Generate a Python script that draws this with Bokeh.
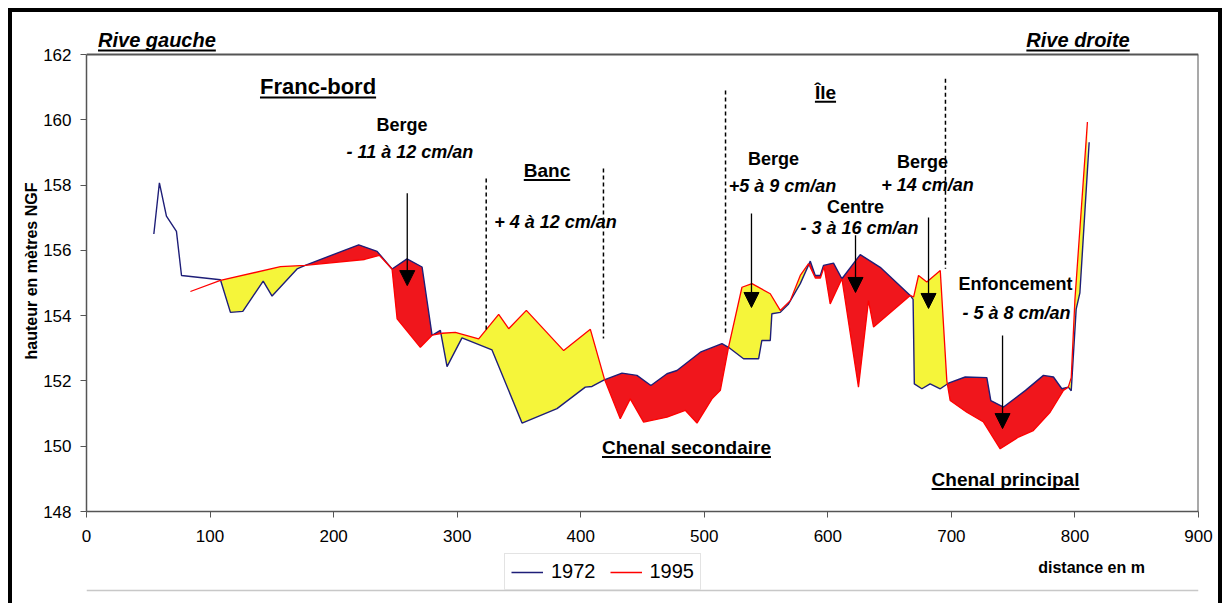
import numpy as np
from bokeh.plotting import figure
from bokeh.layouts import column
from bokeh.models import Range1d, FixedTicker, Label, Arrow, NormalHead, Legend, LegendItem
from bokeh.embed import file_html
from bokeh.resources import INLINE

# ---------------- data ----------------
dist_1972 = [54.5, 59, 64.7, 72.8, 76.9, 108.4, 116.5, 126.5, 143, 150.2, 170.4, 177,
             220.3, 235.2, 247.3, 259.4, 271.6, 279.7, 286.4, 291.8, 303.9, 328.2, 352.5,
             380.8, 403.7, 409.1, 419, 433.4, 445.5, 456.8, 469.8, 477.9, 496.8, 514.3,
             519.6, 531.8, 544, 546.6, 553.4, 554.7, 561.5, 568.2, 577.7, 585.8, 589.8,
             593.9, 596.5, 604.6, 611.4, 626.2, 642.4, 666.7, 669, 670, 676.1, 682.8, 691,
             697.6, 711.2, 728.7, 731.9, 742.2, 760, 774.5, 782.6, 789.4, 794.6, 797, 801,
             804, 811.5]
alt_1972 = [156.5, 158.07, 157.05, 156.58, 155.23, 155.1, 154.1, 154.13, 155.06, 154.6,
            155.43, 155.54, 156.17, 155.97, 155.43, 155.74, 155.49, 153.4, 153.55, 152.44,
            153.32, 152.95, 150.71, 151.15, 151.81, 151.83, 152.03, 152.24, 152.17, 151.86,
            152.22, 152.32, 152.88, 153.14, 153.03, 152.68, 152.68, 153.24, 153.24, 154.06,
            154.1, 154.36, 154.98, 155.67, 155.23, 155.23, 155.54, 155.61, 155.13, 155.87,
            155.48, 154.62, 154.5, 151.91, 151.76, 151.91, 151.76, 151.93, 152.12, 152.1,
            151.4, 151.2, 151.71, 152.17, 152.12, 151.76, 151.81, 151.7, 154.2, 154.7, 159.31]

dist_1995 = [84.1, 108.4, 157, 177, 225, 237, 247.3, 251.4, 270.2, 279.7, 287.8, 298.5,
             317.4, 333.6, 341.7, 356, 386.2, 407.8, 419.1, 432, 440.1, 450.9, 469.8, 484.6,
             494.1, 506.2, 513, 519.6, 530.5, 538.6, 553.4, 561.5, 569.6, 577.7, 584.4, 590,
             594, 597, 601.9, 611.4, 624.8, 632.9, 637, 666.7, 669.4, 673.4, 680.1, 691,
             696.3, 699, 712.5, 726, 739.5, 754.3, 766.3, 779.9, 790.7, 794.6, 797, 800, 810.1]
alt_1995 = [154.74, 155.08, 155.5, 155.54, 155.72, 155.85, 155.43, 153.9, 153.03, 153.4,
            153.46, 153.49, 153.29, 154.04, 153.6, 154.16, 152.93, 153.58, 152.07, 150.84,
            151.45, 150.74, 150.89, 151.1, 150.71, 151.45, 151.71, 153.03, 154.87, 154.98,
            154.67, 154.16, 154.46, 155.23, 155.59, 155.15, 155.15, 155.5, 154.36, 155.13,
            151.81, 154.46, 153.65, 154.62, 154.57, 155.23, 155.03, 155.38, 152.01, 151.4,
            151.04, 150.74, 149.92, 150.28, 150.48, 151.04, 151.71, 151.81, 152.1, 154.5, 159.93]

compare_from = 108.4          # start of the compared section (profiles meet)
series_labels = ["1972", "1995"]
x_ticks = [0, 100, 200, 300, 400, 500, 600, 700, 800, 900]
y_ticks = [148, 150, 152, 154, 156, 158, 160, 162]
x_min, x_max = 0, 900
y_min, y_max = 148, 162

# ---------------- styling ----------------
FONT = "Liberation Sans"
NAVY = "#1E1E78"
RED_LINE = "#FF0000"
RED_FILL = "#F0161C"
YELLOW = "#F5F53A"
AXIS = "#555555"

W_ALL = 1206
H_MAIN = 540
H_FOOT = 51
PX_X = 1112 / 900.0   # pixels per metre along x
PX_Y = 457 / 14.0     # pixels per metre of height
headroom = 24 / PX_Y  # room above the axis top for the bank names

p = figure(width=W_ALL, height=H_MAIN, output_backend="svg", toolbar_location=None,
           x_range=Range1d(x_min, x_max), y_range=Range1d(y_min, y_max + headroom),
           min_border_left=74, min_border_right=20, min_border_top=18, min_border_bottom=41)
p.background_fill_color = "white"
p.border_fill_color = "white"
p.xgrid.visible = False
p.ygrid.visible = False
p.outline_line_color = None

for ax, ticks in ((p.xaxis, x_ticks), (p.yaxis, y_ticks)):
    ax.ticker = FixedTicker(ticks=ticks)
    ax.axis_line_color = AXIS
    ax.axis_line_width = 1.5
    ax.major_tick_line_color = AXIS
    ax.major_tick_out = 6
    ax.major_tick_in = 0
    ax.minor_tick_line_color = None
    ax.major_label_text_font = FONT
    ax.major_label_text_font_size = "17px"
    ax.major_label_text_color = "black"
p.xaxis.major_label_standoff = 12
p.yaxis.major_label_standoff = 9
p.yaxis.bounds = (y_min, y_max)

p.yaxis.axis_label = "hauteur en mètres NGF"
p.yaxis.axis_label_standoff = 0
p.yaxis.axis_label_text_font = FONT
p.yaxis.axis_label_text_font_size = "16px"
p.yaxis.axis_label_text_font_style = "bold"
p.yaxis.axis_label_text_color = "black"

# frame top and right edges (axis box)
p.segment(x0=[x_min, x_max], y0=[y_max, y_min], x1=[x_max, x_max], y1=[y_max, y_max],
          line_color=AXIS, line_width=2)

# ---------------- fills between profiles ----------------
x72 = np.array(dist_1972, dtype=float)
y72 = np.array(alt_1972, dtype=float)
x95 = np.array(dist_1995, dtype=float)
y95 = np.array(alt_1995, dtype=float)
end = min(x72[-1], x95[-1])
grid = np.union1d(x72, x95)
grid = grid[(grid >= compare_from) & (grid <= end)]
a = np.interp(grid, x72, y72)
b = np.interp(grid, x95, y95)
d = b - a
xs = []
for i in range(len(grid)):
    xs.append(grid[i])
    if i < len(grid) - 1 and d[i] * d[i + 1] < 0:
        xs.append(grid[i] + d[i] / (d[i] - d[i + 1]) * (grid[i + 1] - grid[i]))
xs = np.array(xs)
a = np.interp(xs, x72, y72)
b = np.interp(xs, x95, y95)
p.varea(x=xs, y1=a, y2=np.maximum(a, b), fill_color=YELLOW)
p.varea(x=xs, y1=np.minimum(a, b), y2=a, fill_color=RED_FILL)

p.line(x72, y72, line_color=NAVY, line_width=1.4)
p.line(x95, y95, line_color=RED_LINE, line_width=1.3)

# ---------------- annotations ----------------
WIDTHS = {" ": 278, "-": 333, "B": 722, "C": 722, "F": 611, "R": 722, "Î": 278, "a": 556,
          "b": 611, "c": 556, "d": 611, "e": 556, "g": 611, "h": 611, "i": 278, "l": 278,
          "n": 611, "o": 611, "p": 611, "r": 389, "s": 556, "t": 333, "u": 611, "v": 556}


def text_px(s, size):
    return sum(WIDTHS.get(c, 556) for c in s) / 1000.0 * size


# (text, x, y, font size px, style, underlined)
notes = [
    ("Rive gauche", 57.0, 162.43, 20, "bold italic", True),
    ("Rive droite", 802.5, 162.43, 20, "bold italic", True),
    ("Franc-bord", 187.4, 161.02, 22, "bold", True),
    ("Berge", 255.4, 159.84, 18, "bold", False),
    ("- 11 à 12 cm/an", 261.8, 159.0, 18, "bold italic", False),
    ("Banc", 372.7, 158.45, 19, "bold", True),
    ("+ 4 à 12 cm/an", 379.6, 156.88, 18, "bold italic", False),
    ("Île", 598.1, 160.84, 19, "bold", True),
    ("Berge", 556.0, 158.81, 18, "bold", False),
    ("+5 à 9 cm/an", 563.3, 157.96, 18, "bold italic", False),
    ("Berge", 676.6, 158.72, 18, "bold", False),
    ("+ 14 cm/an", 680.7, 157.99, 18, "bold italic", False),
    ("Centre", 622.4, 157.34, 18, "bold", False),
    ("- 3 à 16 cm/an", 625.6, 156.67, 18, "bold italic", False),
    ("Enfoncement", 751.9, 154.98, 18, "bold", False),
    ("- 5 à 8 cm/an", 752.7, 154.07, 18, "bold italic", False),
    ("Chenal secondaire", 485.6, 149.96, 19, "bold", True),
    ("Chenal principal", 743.8, 148.98, 19, "bold", True),
]
for text, x, y, size, style, ul in notes:
    p.add_layout(Label(x=x, y=y, text=text, text_align="center", text_baseline="middle",
                       text_font=FONT, text_font_size=f"{size}px", text_font_style=style,
                       text_color="black"))
    if ul:
        half = text_px(text, size) / 2.0 / PX_X
        yu = y - 0.5 * size / PX_Y
        p.add_layout(Arrow(end=None, x_start=x - half, y_start=yu, x_end=x + half, y_end=yu,
                           line_color="black", line_width=2))

# arrows (x, y_start, y_end)
arrows = [(259.6, 157.75, 154.92), (538.2, 157.13, 154.25), (622.4, 156.46, 154.71),
          (681.5, 157.01, 154.22), (741.4, 153.39, 150.54)]
for x, ys, ye in arrows:
    p.add_layout(Arrow(end=NormalHead(size=15, fill_color="black", line_color="black"),
                       x_start=x, y_start=ys, x_end=x, y_end=ye,
                       line_color="black", line_width=1.3))

# dashed section limits (x, y_top, y_bottom)
limits = [(323.5, 158.2, 153.54), (418.4, 158.51, 153.3), (517.2, 160.9, 153.39),
          (695.2, 161.26, 155.44)]
p.segment(x0=[l[0] for l in limits], y0=[l[1] for l in limits],
          x1=[l[0] for l in limits], y1=[l[2] for l in limits],
          line_color="black", line_width=1.5, line_dash="4 3")

# ---------------- footer strip: legend + x title ----------------
# (its frame is aligned by the column with the main frame)
f = figure(width=W_ALL, height=H_FOOT, output_backend="svg", toolbar_location=None,
           x_range=Range1d(0, W_ALL), y_range=Range1d(0, H_FOOT),
           x_axis_location=None, y_axis_location=None,
           min_border=0, min_border_left=0, min_border_right=0, min_border_top=0,
           min_border_bottom=0)
f.grid.visible = False
f.outline_line_color = None
f.background_fill_color = "white"
f.border_fill_color = "white"

# chart-area bottom edge
f.segment(x0=[0], y0=[13], x1=[W_ALL], y1=[13], line_color="#C8C8C8", line_width=1.5)

f.add_layout(Label(x=1090, y=36, text="distance en m", text_align="center",
                   text_baseline="middle", text_font=FONT, text_font_size="16px",
                   text_font_style="bold", text_color="black"))

# legend proxies (same series, out of this strip's view)
g72 = f.line(x72, y72, line_color=NAVY, line_width=1.4)
g95 = f.line(x95, y95, line_color=RED_LINE, line_width=1.3)
legend = Legend(items=[LegendItem(label=series_labels[0], renderers=[g72]),
                       LegendItem(label=series_labels[1], renderers=[g95])],
                orientation="horizontal", location=(418, 13))
legend.label_text_font = FONT
legend.label_text_font_size = "20px"
legend.label_text_color = "black"
legend.glyph_width = 32
legend.glyph_height = 20
legend.label_standoff = 8
legend.spacing = 14
legend.padding = 6
legend.margin = 0
legend.border_line_color = "#C8C8C8"
legend.border_line_width = 1.5
legend.background_fill_color = "white"
legend.background_fill_alpha = 1
f.add_layout(legend)

layout = column(p, f, spacing=0,
                styles={"margin-left": "8px", "margin-top": "8px",
                        "border-top": "4px solid black", "border-left": "4px solid black",
                        "border-right": "4px solid black"})

open("out.html", "w").write(file_html(layout, INLINE))
